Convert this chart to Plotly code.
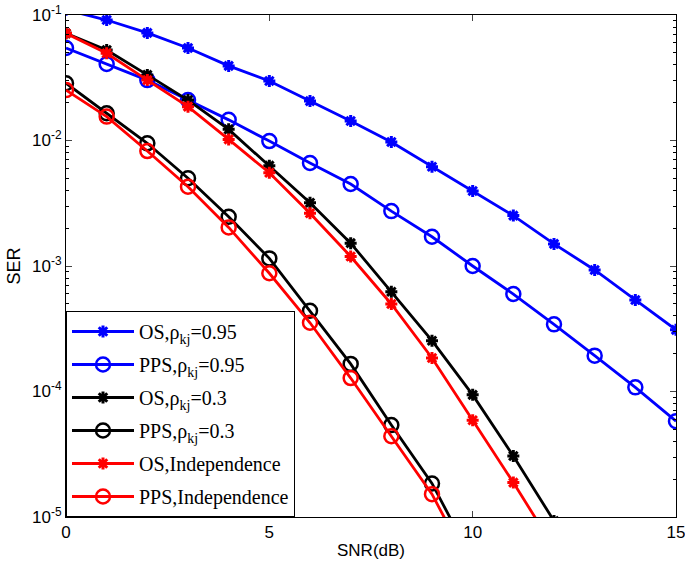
import plotly.graph_objects as go

snr = list(range(0, 16))

os_095 = [0.110, 0.0912, 0.072, 0.0546, 0.0393, 0.0298, 0.0206, 0.0143, 0.00973,
          0.00618, 0.00396, 0.00252, 0.0015, 0.00093, 0.000536, 0.00031]
pps_095 = [0.0546, 0.0407, 0.0303, 0.0210, 0.0146, 0.0099, 0.00662, 0.0045, 0.00274,
           0.00171, 0.0010, 0.000598, 0.000343, 0.000193, 0.000108, 5.8e-5]
os_03 = [0.0714, 0.0526, 0.0333, 0.0210, 0.01227, 0.0063, 0.00319, 0.00152, 0.000624,
         0.000254, 9.4e-5, 3.06e-5, 9.3e-6]
pps_03 = [0.0286, 0.0165, 0.0095, 0.0050, 0.00247, 0.00115, 0.00044, 0.000166, 5.4e-5,
          1.85e-5, 4.5e-6]
os_ind = [0.0714, 0.0496, 0.0303, 0.0186, 0.0102, 0.00553, 0.00263, 0.00119, 0.000498,
          0.000185, 5.9e-5, 1.88e-5, 5.7e-6]
pps_ind = [0.0252, 0.0155, 0.00824, 0.00428, 0.00203, 0.000875, 0.000353, 0.000128,
           4.4e-5, 1.52e-5, 3.7e-6]

names = ["OS,ρ<sub>kj</sub>=0.95", "PPS,ρ<sub>kj</sub>=0.95",
         "OS,ρ<sub>kj</sub>=0.3", "PPS,ρ<sub>kj</sub>=0.3",
         "OS,Independence", "PPS,Independence"]
series = [os_095, pps_095, os_03, pps_03, os_ind, pps_ind]
colors = ["#0000ff", "#0000ff", "#000000", "#000000", "#ff0000", "#ff0000"]
kinds = ["star", "circle", "star", "circle", "star", "circle"]

y_tickvals = [1e-5, 1e-4, 1e-3, 1e-2, 1e-1]
y_ticktext = ["10<sup>-5</sup>", "10<sup>-4</sup>", "10<sup>-3</sup>", "10<sup>-2</sup>", "10<sup>-1</sup>"]
y_minorvals = [m * 10.0 ** e for e in range(-5, -1) for m in range(2, 10)]
x_tickvals = [0, 5, 10, 15]

fig = go.Figure()
for i, (name, ys, c, k) in enumerate(zip(names, series, colors, kinds)):
    if k == "star":
        marker = dict(symbol="asterisk-open", size=10, color=c, line=dict(color=c, width=3))
    else:
        marker = dict(symbol="circle-open", size=14, color=c, line=dict(color=c, width=2.5))
    fig.add_trace(go.Scatter(x=snr[:len(ys)], y=ys, mode="lines+markers", name=name,
                             legendgroup=f"g{i}",
                             line=dict(color=c, width=2.8), marker=marker))

fig.update_layout(
    width=685, height=570,
    margin=dict(l=66, r=9, t=15, b=53),
    paper_bgcolor="white", plot_bgcolor="white",
    font=dict(family="Liberation Sans, Arial", size=17, color="black"),
    showlegend=True,
    legend=dict(x=0, y=0, xanchor="left", yanchor="bottom",
                bgcolor="white", bordercolor="black", borderwidth=1,
                font=dict(family="Liberation Serif, Times New Roman", size=20, color="black"),
                itemwidth=62, tracegroupgap=4),
    xaxis=dict(range=[0, 15], tickvals=x_tickvals, ticks="inside", ticklen=6,
               showline=True, linecolor="black", linewidth=1, mirror="ticks",
               showgrid=False, zeroline=False, automargin=False,
               ticklabeloverflow="allow",
               title=dict(text="SNR(dB)", font=dict(size=17), standoff=2),
               tickfont=dict(size=17)),
    yaxis=dict(type="log", range=[-5, -1], tickvals=y_tickvals, ticktext=y_ticktext,
               ticks="inside", ticklen=6,
               showline=True, linecolor="black", linewidth=1, mirror="ticks",
               showgrid=False, zeroline=False, automargin=False,
               ticklabeloverflow="allow",
               title=dict(text="SER", font=dict(size=18), standoff=6),
               tickfont=dict(size=17),
               minor=dict(tickmode="array", tickvals=y_minorvals, ticks="inside",
                          ticklen=3, tickcolor="black", showgrid=False)),
)

fig.write_html("out.html", config={"displayModeBar": False},
               post_script="document.body.style.margin='0px';")
